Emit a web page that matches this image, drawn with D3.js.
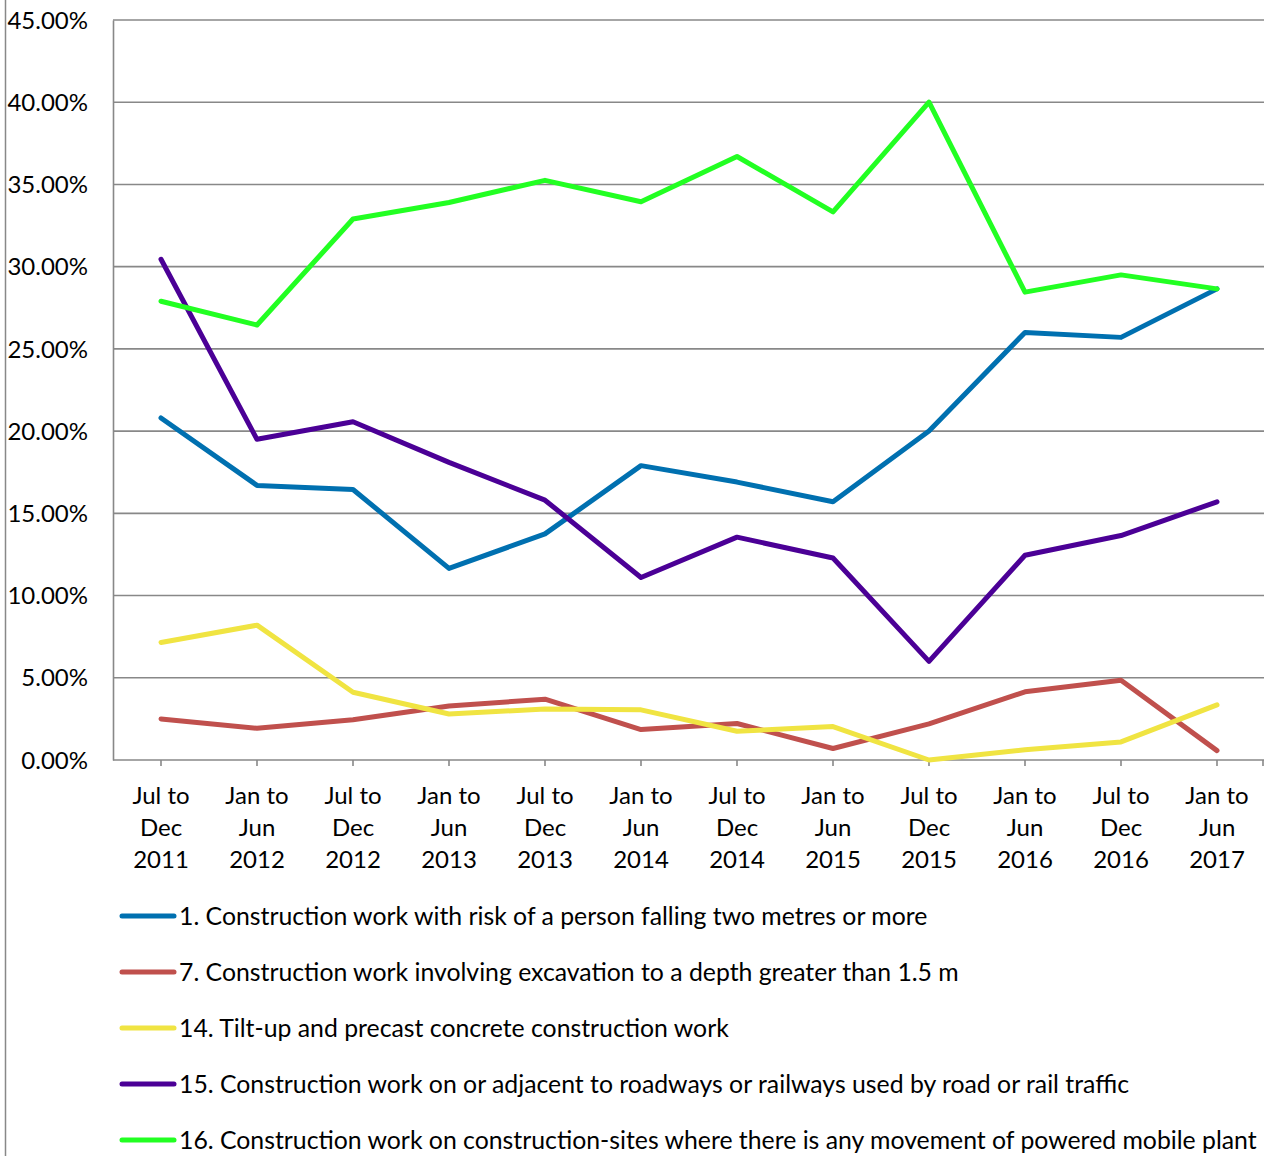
<!DOCTYPE html>
<html>
<head>
<meta charset="utf-8">
<script src="https://cdn.jsdelivr.net/npm/d3@7"></script>
<style>
  html, body { margin: 0; padding: 0; background: #fff; }
  svg { display: block; }
  text { font-family: Lato, "Open Sans", sans-serif; fill: #000; }
</style>
</head>
<body>
<svg id="chart" width="1264" height="1156"></svg>
<script>
const categories = [
  ["Jul to", "Dec", "2011"], ["Jan to", "Jun", "2012"], ["Jul to", "Dec", "2012"],
  ["Jan to", "Jun", "2013"], ["Jul to", "Dec", "2013"], ["Jan to", "Jun", "2014"],
  ["Jul to", "Dec", "2014"], ["Jan to", "Jun", "2015"], ["Jul to", "Dec", "2015"],
  ["Jan to", "Jun", "2016"], ["Jul to", "Dec", "2016"], ["Jan to", "Jun", "2017"]
];
const seriesNames = [
  "1. Construction work with risk of a person falling two metres or more",
  "7. Construction work involving excavation to a depth greater than 1.5 m",
  "14. Tilt-up and precast concrete construction work",
  "15. Construction work on or adjacent to roadways or railways used by road or rail traffic",
  "16. Construction work on construction-sites where there is any movement of powered mobile plant"
];
const seriesColors = ["#0070B0", "#C0504D", "#F0E442", "#4B0096", "#22FF22"];
const fallingValues    = [20.8, 16.7, 16.45, 11.65, 13.75, 17.9, 16.9, 15.7, 20.0, 26.0, 25.7, 28.65];
const excavationValues = [2.5, 1.93, 2.45, 3.28, 3.7, 1.85, 2.22, 0.7, 2.2, 4.15, 4.85, 0.57];
const tiltUpValues     = [7.15, 8.2, 4.12, 2.8, 3.1, 3.05, 1.75, 2.03, 0.0, 0.62, 1.1, 3.35];
const roadwayValues    = [30.45, 19.5, 20.57, 18.1, 15.8, 11.1, 13.55, 12.28, 6.0, 12.45, 13.65, 15.7];
const mobilePlantValues= [27.9, 26.45, 32.9, 33.9, 35.25, 33.95, 36.7, 33.33, 40.0, 28.45, 29.5, 28.65];
const yTicks = [0, 5, 10, 15, 20, 25, 30, 35, 40, 45];

const seriesValues = [fallingValues, excavationValues, tiltUpValues, roadwayValues, mobilePlantValues];

const FS = 24;
const LEG_FS = 24.8;
const svg = d3.select("#chart");
const plot = { left: 113, right: 1265, top: 20, bottom: 760 };

const x = d3.scaleBand().domain(d3.range(categories.length)).range([plot.left, plot.right]).padding(0);
const y = d3.scaleLinear().domain([0, 45]).range([plot.bottom, plot.top]);
const cx = i => x(i) + x.bandwidth() / 2;

// outer chart border line on the left
svg.append("line").attr("x1", 5.5).attr("x2", 5.5).attr("y1", 0).attr("y2", 1156)
  .attr("stroke", "#888").attr("stroke-width", 1.5);

// gridlines
svg.append("g").selectAll("line").data(yTicks.filter(d => d > 0)).join("line")
  .attr("x1", plot.left).attr("x2", plot.right)
  .attr("y1", d => y(d)).attr("y2", d => y(d))
  .attr("stroke", "#888").attr("stroke-width", 1.6);

// y axis
const yAxis = d3.axisLeft(y).tickValues(yTicks).tickSize(0).tickPadding(25)
  .tickFormat(d => d.toFixed(2) + "%");
const gy = svg.append("g").attr("transform", `translate(${plot.left},0)`).call(yAxis);
gy.select(".domain").attr("stroke", "#888").attr("stroke-width", 1.6);
gy.selectAll("text").attr("font-size", FS).attr("font-family", "Lato, sans-serif").attr("fill", "#000")
  .attr("dy", "0.34em");

// x axis
const xAxisG = svg.append("g");
xAxisG.append("line").attr("x1", plot.left).attr("x2", plot.right)
  .attr("y1", plot.bottom).attr("y2", plot.bottom).attr("stroke", "#888").attr("stroke-width", 1.6);
const tickXs = categories.map((c, i) => cx(i)).concat([plot.right - 2]);
xAxisG.selectAll("line.tick").data(tickXs).join("line").attr("class", "tick")
  .attr("x1", d => d).attr("x2", d => d).attr("y1", plot.bottom).attr("y2", plot.bottom + 6)
  .attr("stroke", "#888").attr("stroke-width", 1.6);
const lab = xAxisG.selectAll("text").data(categories).join("text")
  .attr("text-anchor", "middle").attr("font-size", FS)
  .attr("transform", (d, i) => `translate(${cx(i)},0)`);
lab.selectAll("tspan").data(d => d).join("tspan")
  .attr("x", 0).attr("y", (d, j) => 804 + j * 32).text(d => d);

// lines
const line = d3.line().x((d, i) => cx(i)).y(d => y(d));
svg.append("g").selectAll("path").data(d3.range(seriesValues.length)).join("path")
  .attr("d", k => line(seriesValues[k]))
  .attr("fill", "none").attr("stroke", k => seriesColors[k])
  .attr("stroke-width", 5).attr("stroke-linejoin", "round").attr("stroke-linecap", "round");

// legend
const leg = svg.append("g").selectAll("g").data(seriesNames).join("g")
  .attr("transform", (d, i) => `translate(0,${916 + i * 56})`);
leg.append("line").attr("x1", 122).attr("x2", 174).attr("y1", 0).attr("y2", 0)
  .attr("stroke", (d, i) => seriesColors[i]).attr("stroke-width", 5).attr("stroke-linecap", "round");
leg.append("text").attr("x", 179).attr("y", 8.5).attr("font-size", LEG_FS).text(d => d);
</script>
</body>
</html>
